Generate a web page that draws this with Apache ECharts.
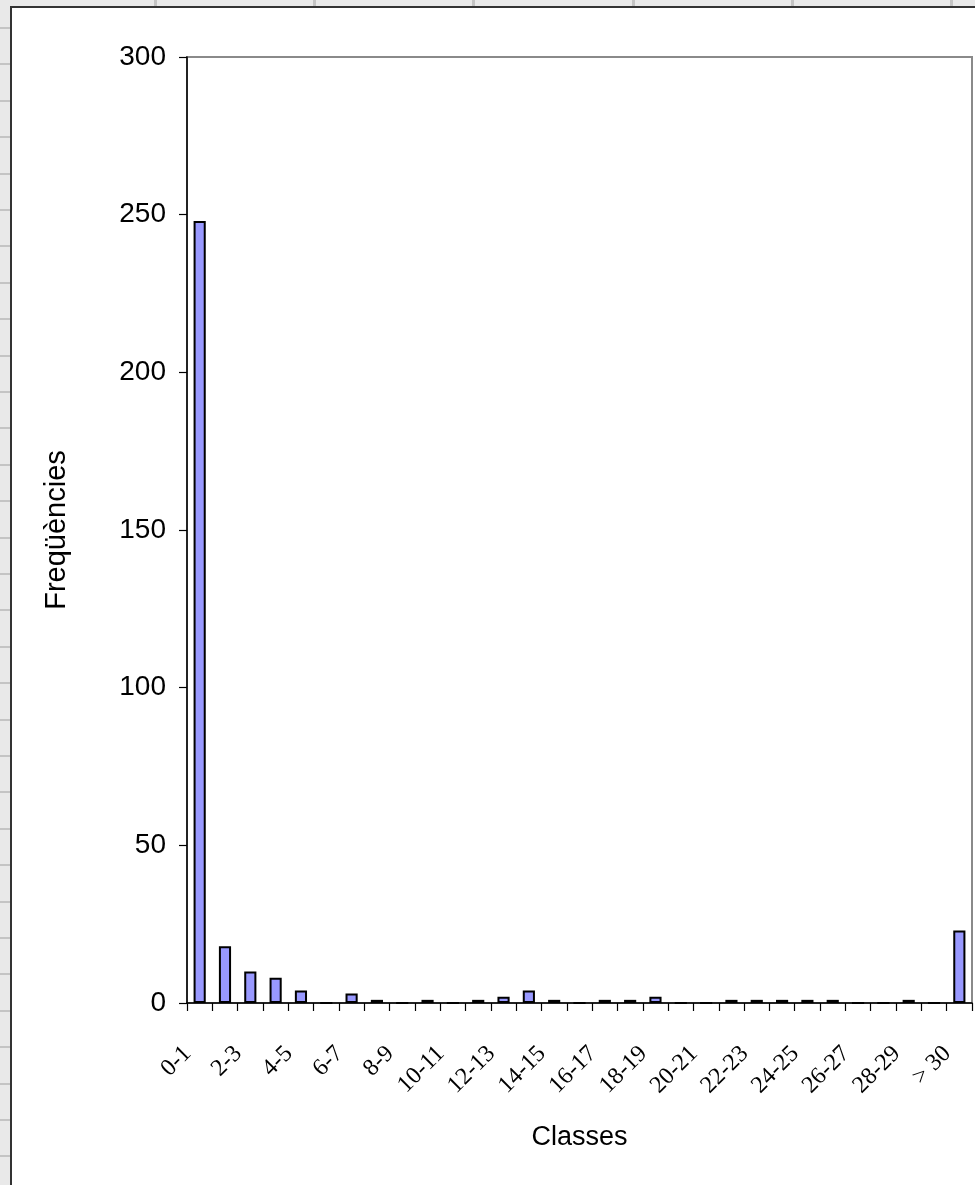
<!DOCTYPE html>
<html>
<head>
<meta charset="utf-8">
<script src="https://cdn.jsdelivr.net/npm/echarts@6/dist/echarts.min.js"></script>
<style>
  html, body { margin:0; padding:0; width:975px; height:1185px; overflow:hidden; background:#e9e9e9; }
  #leftStrip { position:absolute; left:0; top:0; width:10px; height:1185px;
    background: repeating-linear-gradient(to bottom, transparent 0px, transparent 27px, #c4c4c4 27px, #c4c4c4 29px, transparent 29px, transparent 36.4px); }
  #topStrip { position:absolute; left:0; top:0; width:975px; height:6px;
    background: repeating-linear-gradient(to right, transparent 0px, transparent 154px, #c4c4c4 154px, #c4c4c4 157px, transparent 157px, transparent 159.2px); }
  #area { position:absolute; left:10px; top:6px; width:975px; height:1185px; background:#fff;
    border-left:2px solid #333; border-top:2px solid #333; box-sizing:border-box; }
  #chart { position:absolute; left:0; top:0; width:975px; height:1185px; }
</style>
</head>
<body>
<div id="leftStrip"></div>
<div id="topStrip"></div>
<div id="area"></div>
<div id="chart"></div>
<script>
const categories = ['0-1','1-2','2-3','3-4','4-5','5-6','6-7','7-8','8-9','9-10',
  '10-11','11-12','12-13','13-14','14-15','15-16','16-17','17-18','18-19','19-20',
  '20-21','21-22','22-23','23-24','24-25','25-26','26-27','27-28','28-29','29-30','> 30'];
const frequencies = [248,18,10,8,4,0,3,1,0,1,
  0,1,2,4,1,0,1,1,2,0,
  0,1,1,1,1,1,0,0,1,0,23];
const yTicks = { min:0, max:300, interval:50 };
const xAxisTitle = 'Classes';
const yAxisTitle = 'Freqüències';

const chart = echarts.init(document.getElementById('chart'), null, {renderer:'canvas'});
chart.setOption({
  backgroundColor: 'transparent',
  animation: false,
  grid: { left:187, right:3, top:57, bottom:182, show:true, borderColor:'#8a8a8a', borderWidth:2, backgroundColor:'transparent' },
  xAxis: {
    type:'category',
    data: categories,
    name: xAxisTitle,
    nameLocation:'middle',
    nameGap: 121,
    nameTextStyle: { fontFamily:'Liberation Sans', fontSize:27, color:'#000' },
    axisLine: { show:true, lineStyle:{ color:'#000', width:1.5 } },
    axisTick: { show:true, interval:0, length:8, lineStyle:{ color:'#000', width:1.2 } },
    axisLabel: { interval:1, rotate:45, margin:35, padding:[0, 17, 0, 0], fontFamily:'Liberation Serif', fontSize:24, color:'#000' },
    splitLine: { show:false }
  },
  yAxis: {
    type:'value',
    min: yTicks.min, max: yTicks.max, interval: yTicks.interval,
    name: yAxisTitle,
    nameLocation:'middle',
    nameGap: 116,
    nameRotate: 90,
    nameTextStyle: { fontFamily:'Liberation Sans', fontSize:29, color:'#000' },
    axisLine: { show:true, lineStyle:{ color:'#000', width:1.5 } },
    axisTick: { show:true, length:8, lineStyle:{ color:'#000', width:1.2 } },
    axisLabel: { margin:21, fontFamily:'Liberation Sans', fontSize:28, color:'#000' },
    splitLine: { show:false }
  },
  series: [{
    type:'bar',
    data: frequencies,
    barCategoryGap:'52%',
    itemStyle: { color:'#9999ff', borderColor:'#000', borderWidth:2 }
  }]
});
</script>
</body>
</html>
